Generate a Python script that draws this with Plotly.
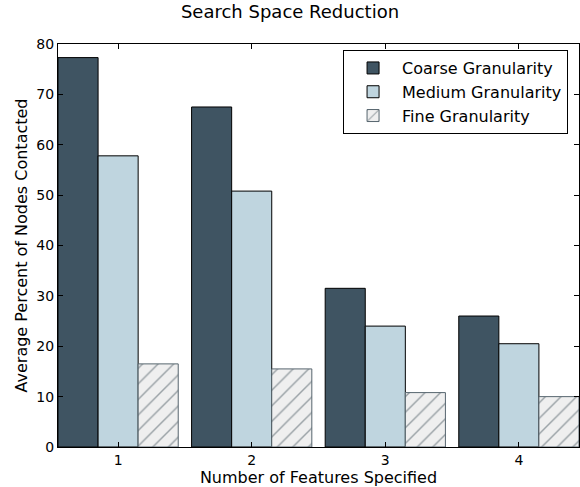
import plotly.graph_objects as go

features = [1, 2, 3, 4]
tick_labels = ["1", "2", "3", "4"]
coarse = [77.3, 67.5, 31.5, 26.0]
medium = [57.8, 50.8, 24.0, 20.5]
fine = [16.5, 15.5, 10.8, 10.0]

fig = go.Figure()
fig.add_trace(go.Bar(x=features, y=coarse, name="Coarse Granularity",
                     marker=dict(color="#3f5462", line=dict(color="black", width=1))))
fig.add_trace(go.Bar(x=features, y=medium, name="Medium Granularity",
                     marker=dict(color="#bfd5df", line=dict(color="black", width=1))))
fig.add_trace(go.Bar(x=features, y=fine, name="Fine Granularity",
                     marker=dict(color="#efefef", line=dict(color="#56656e", width=1),
                                 pattern=dict(shape="/", fgcolor="#44535c", bgcolor="#efefef",
                                              size=11, solidity=0.13))))

axis_common = dict(showline=True, linecolor="black", linewidth=1, mirror="allticks",
                   ticks="inside", ticklen=5, tickcolor="black", showgrid=False,
                   zeroline=False, tickfont=dict(size=14, color="black"))

fig.update_layout(
    width=580, height=487,
    margin=dict(l=58, r=1, t=44, b=40),
    paper_bgcolor="white", plot_bgcolor="white",
    font=dict(family="DejaVu Sans", color="black"),
    barmode="group", bargap=0.1, bargroupgap=0,
    title=dict(text="Search Space Reduction", x=0.5, xanchor="center", y=0.976, yanchor="middle",
               font=dict(size=18, color="black")),
    xaxis=dict(range=[0.55, 4.45], tickvals=features, ticktext=tick_labels,
               title=dict(text="Number of Features Specified", font=dict(size=16), standoff=2),
               **axis_common),
    yaxis=dict(range=[0, 80], dtick=10,
               title=dict(text="Average Percent of Nodes Contacted", font=dict(size=16), standoff=4),
               **axis_common),
    legend=dict(x=0.979, xanchor="right", y=0.985, yanchor="top",
                bgcolor="white", bordercolor="black", borderwidth=1,
                font=dict(size=16, color="black"), itemwidth=48, tracegroupgap=0),
)

fig.write_html("out.html")
